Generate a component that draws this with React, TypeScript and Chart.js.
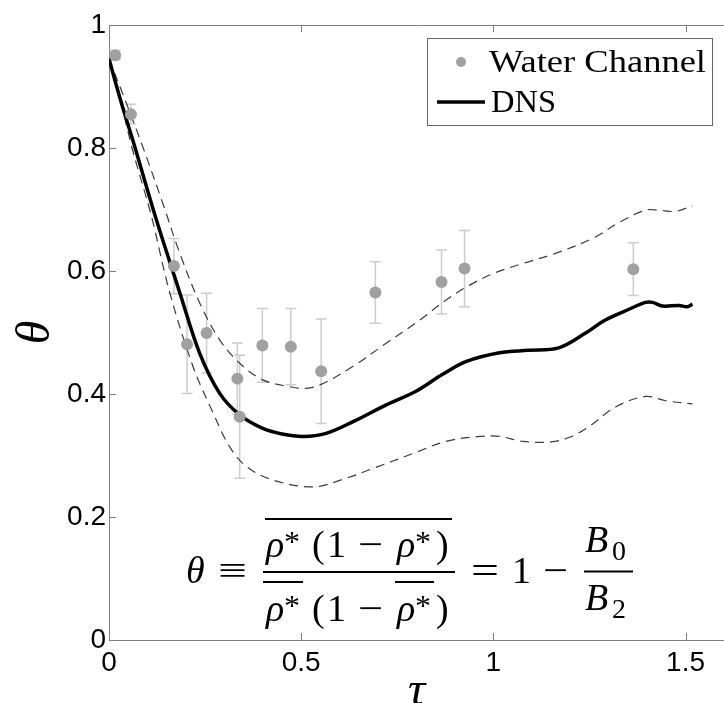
import React, { useEffect, useRef } from "react";
import { Chart, registerables } from "chart.js";
Chart.register(...registerables);

// ---- data ----
const xTickValues = [0, 0.5, 1, 1.5];
const yTickValues = [0, 0.2, 0.4, 0.6, 0.8, 1];

const wcTau = [0.016, 0.057, 0.169, 0.203, 0.254, 0.334, 0.34, 0.399, 0.473, 0.552, 0.693, 0.865, 0.925, 1.364];
const wcTheta = [0.951, 0.855, 0.608, 0.481, 0.499, 0.425, 0.363, 0.479, 0.477, 0.437, 0.565, 0.582, 0.604, 0.603];
const wcErr = [0.008, 0.016, 0.045, 0.08, 0.065, 0.058, 0.1, 0.06, 0.062, 0.085, 0.05, 0.052, 0.062, 0.043];

const dnsTau = [0, 0.03, 0.068, 0.12, 0.184, 0.236, 0.288, 0.34, 0.4, 0.45, 0.505, 0.565, 0.635, 0.72, 0.8, 0.868, 0.93, 1.016, 1.09, 1.17, 1.24, 1.29, 1.35, 1.396, 1.414, 1.44, 1.483, 1.504, 1.518];
const dnsTheta = [0.945, 0.878, 0.8, 0.69, 0.565, 0.466, 0.401, 0.366, 0.344, 0.335, 0.331, 0.336, 0.355, 0.382, 0.405, 0.432, 0.453, 0.467, 0.471, 0.475, 0.499, 0.52, 0.537, 0.549, 0.549, 0.543, 0.544, 0.542, 0.546];

const upperTau = [0, 0.042, 0.089, 0.14, 0.184, 0.236, 0.288, 0.34, 0.4, 0.47, 0.513, 0.557, 0.635, 0.72, 0.808, 0.877, 0.938, 1.0, 1.07, 1.163, 1.258, 1.33, 1.396, 1.43, 1.474, 1.518];
const upperTheta = [0.945, 0.878, 0.8, 0.71, 0.629, 0.548, 0.488, 0.45, 0.423, 0.412, 0.409, 0.417, 0.445, 0.482, 0.52, 0.553, 0.577, 0.596, 0.611, 0.629, 0.653, 0.68, 0.699, 0.699, 0.697, 0.706];

const lowerTau = [0, 0.03, 0.06, 0.11, 0.158, 0.219, 0.271, 0.314, 0.358, 0.427, 0.531, 0.617, 0.687, 0.79, 0.877, 0.964, 1.016, 1.076, 1.15, 1.2, 1.249, 1.318, 1.396, 1.448, 1.518];
const lowerTheta = [0.945, 0.878, 0.8, 0.69, 0.565, 0.444, 0.369, 0.314, 0.282, 0.26, 0.249, 0.263, 0.279, 0.303, 0.323, 0.331, 0.331, 0.323, 0.322, 0.33, 0.347, 0.379, 0.396, 0.389, 0.384];

const toXY = (xs: number[], ys: number[]) => xs.map((x, i) => ({ x, y: ys[i] }));

const AXIS_GRAY = "#808080";
const CANVAS_W = 730;
const CANVAS_H = 703;

const framePlugin = {
  id: "frame",
  beforeDatasetsDraw(chart: any) {
    const { ctx, scales } = chart;
    const xs = scales.x, ys = scales.y;
    ctx.save();
    ctx.strokeStyle = "#cdcdcd";
    ctx.lineWidth = 1.5;
    wcTau.forEach((t, i) => {
      const px = xs.getPixelForValue(t);
      const top = ys.getPixelForValue(wcTheta[i] + wcErr[i]);
      const bot = ys.getPixelForValue(wcTheta[i] - wcErr[i]);
      ctx.beginPath();
      ctx.moveTo(px, top); ctx.lineTo(px, bot);
      ctx.moveTo(px - 5.5, top); ctx.lineTo(px + 5.5, top);
      ctx.moveTo(px - 5.5, bot); ctx.lineTo(px + 5.5, bot);
      ctx.stroke();
    });
    ctx.restore();
  },
  afterDraw(chart: any) {
    const { ctx, chartArea, scales } = chart;
    const { left, right, top, bottom } = chartArea;
    ctx.save();
    ctx.strokeStyle = AXIS_GRAY;
    ctx.lineWidth = 1;
    ctx.beginPath();
    ctx.moveTo(left, top + 0.5); ctx.lineTo(right, top + 0.5);
    xTickValues.forEach((v) => {
      const px = Math.round(scales.x.getPixelForValue(v)) + 0.5;
      if (v > 0) {
        ctx.moveTo(px, bottom); ctx.lineTo(px, bottom - 7);
        ctx.moveTo(px, top); ctx.lineTo(px, top + 7);
      }
    });
    yTickValues.forEach((v) => {
      const py = Math.round(scales.y.getPixelForValue(v)) + 0.5;
      if (v > 0 && v < 1) {
        ctx.moveTo(left, py); ctx.lineTo(left + 7, py);
      }
    });
    ctx.stroke();
    ctx.restore();
  },
};

const serif = "'Liberation Serif', 'Times New Roman', serif";

function Formula() {
  const F = 38;
  const S = 30;
  const it = { fontStyle: "italic" as const };
  return (
    <g fontFamily={serif} fill="#000">
      <text x={186} y={583} fontSize={F} style={it}>θ</text>
      <text x={218} y={583} fontSize={F} textLength={29} lengthAdjust="spacingAndGlyphs">≡</text>
      {/* numerator */}
      <text x={266} y={557} fontSize={F} style={it}>ρ</text>
      <text x={284} y={551} fontSize={S} textLength={16} lengthAdjust="spacingAndGlyphs">*</text>
      <text x={312} y={557} fontSize={F}>(</text>
      <text x={327} y={557} fontSize={F}>1</text>
      <text x={358} y={557} fontSize={F} textLength={25} lengthAdjust="spacingAndGlyphs">−</text>
      <text x={397} y={557} fontSize={F} style={it}>ρ</text>
      <text x={415} y={551} fontSize={S} textLength={16} lengthAdjust="spacingAndGlyphs">*</text>
      <text x={436} y={557} fontSize={F}>)</text>
      <line x1={265} x2={452} y1={519} y2={519} stroke="#000" strokeWidth={1.8} />
      <line x1={263} x2={455} y1={572} y2={572} stroke="#000" strokeWidth={2} />
      {/* denominator */}
      <text x={266} y={621} fontSize={F} style={it}>ρ</text>
      <text x={284} y={615} fontSize={S} textLength={16} lengthAdjust="spacingAndGlyphs">*</text>
      <text x={312} y={621} fontSize={F}>(</text>
      <text x={327} y={621} fontSize={F}>1</text>
      <text x={358} y={621} fontSize={F} textLength={25} lengthAdjust="spacingAndGlyphs">−</text>
      <text x={397} y={621} fontSize={F} style={it}>ρ</text>
      <text x={415} y={615} fontSize={S} textLength={16} lengthAdjust="spacingAndGlyphs">*</text>
      <text x={436} y={621} fontSize={F}>)</text>
      <line x1={263} x2={303} y1={582} y2={582} stroke="#000" strokeWidth={1.8} />
      <line x1={395} x2={434} y1={582} y2={582} stroke="#000" strokeWidth={1.8} />
      {/* right side */}
      <text x={471} y={583} fontSize={F} textLength={28} lengthAdjust="spacingAndGlyphs">=</text>
      <text x={512} y={583} fontSize={F}>1</text>
      <text x={543} y={583} fontSize={F} textLength={25} lengthAdjust="spacingAndGlyphs">−</text>
      <text x={585} y={552} fontSize={F} style={it}>B</text>
      <text x={612} y={560} fontSize={28}>0</text>
      <line x1={584} x2={633} y1={571.5} y2={571.5} stroke="#000" strokeWidth={2} />
      <text x={585} y={610} fontSize={F} style={it}>B</text>
      <text x={612} y={618} fontSize={28}>2</text>
    </g>
  );
}

function Legend() {
  return (
    <g fontFamily={serif}>
      <rect x={427.5} y={38.5} width={285} height={87} fill="#fff" stroke="#666" strokeWidth={1} />
      <circle cx={461} cy={62} r={5} fill="#a0a0a0" />
      <text x={489} y={72} fontSize={32} textLength={217} lengthAdjust="spacingAndGlyphs">Water Channel</text>
      <line x1={437} x2={485} y1={102} y2={102} stroke="#000" strokeWidth={3.5} />
      <text x={491} y={112} fontSize={32} textLength={65} lengthAdjust="spacingAndGlyphs">DNS</text>
    </g>
  );
}

export default function App() {
  const canvasRef = useRef<HTMLCanvasElement | null>(null);

  useEffect(() => {
    if (!canvasRef.current) return;
    const dashed = {
      borderColor: "#3c3c3c",
      borderWidth: 1.2,
      borderDash: [9, 6],
      pointRadius: 0,
      showLine: true,
      tension: 0.35,
      fill: false,
    };
    const chart = new Chart(canvasRef.current, {
      type: "scatter",
      data: {
        datasets: [
          {
            label: "Water Channel",
            data: toXY(wcTau, wcTheta),
            pointRadius: 6,
            pointHoverRadius: 6,
            pointBackgroundColor: "#a0a0a0",
            pointBorderWidth: 0,
            borderWidth: 0,
            showLine: false,
          },
          {
            label: "DNS",
            data: toXY(dnsTau, dnsTheta),
            borderColor: "#000",
            borderWidth: 3.5,
            pointRadius: 0,
            showLine: true,
            tension: 0.35,
            fill: false,
          },
          { label: "DNS upper", data: toXY(upperTau, upperTheta), ...dashed },
          { label: "DNS lower", data: toXY(lowerTau, lowerTheta), ...dashed },
        ],
      },
      options: {
        animation: false,
        responsive: false,
        devicePixelRatio: 1,
        layout: { padding: { top: 25, left: 0, right: 0, bottom: 0 } },
        plugins: { legend: { display: false }, tooltip: { enabled: false } },
        scales: {
          x: {
            type: "linear",
            min: 0,
            max: 1.6,
            afterBuildTicks: (s: any) => { s.ticks = xTickValues.map((value) => ({ value })); },
            afterFit: (s: any) => { s.height = 63; },
            ticks: {
              callback: (v: any) => String(v),
              font: { family: "'Liberation Sans', Arial, sans-serif", size: 28 },
              color: "#000",
              padding: 6,
              maxRotation: 0,
            },
            grid: { display: true, drawOnChartArea: false, drawTicks: false },
            border: { display: true, color: AXIS_GRAY, width: 1 },
            title: {
              display: true,
              text: "τ",
              color: "#000",
              font: { family: serif, style: "italic", size: 48, lineHeight: 0.44 },
              padding: { top: 0, bottom: 0 },
            },
          },
          y: {
            type: "linear",
            min: 0,
            max: 1,
            afterBuildTicks: (s: any) => { s.ticks = yTickValues.map((value) => ({ value })); },
            afterFit: (s: any) => { s.width = 109; },
            ticks: {
              callback: (v: any) => String(v),
              font: { family: "'Liberation Sans', Arial, sans-serif", size: 28 },
              color: "#000",
              padding: 3,
            },
            grid: { display: true, drawOnChartArea: false, drawTicks: false },
            border: { display: true, color: AXIS_GRAY, width: 1 },
            title: {
              display: true,
              text: "θ",
              color: "#000",
              font: { family: serif, style: "italic", size: 48, lineHeight: 0.44 },
              padding: { top: 26, bottom: 0 },
            },
          },
        },
      },
      plugins: [framePlugin],
    } as any);
    return () => chart.destroy();
  }, []);

  return (
    <div style={{ position: "fixed", left: 0, top: 0, width: 724, height: 703, background: "#fff", overflow: "hidden" }}>
      <canvas ref={canvasRef} width={CANVAS_W} height={CANVAS_H} style={{ position: "absolute", left: 0, top: 0, width: CANVAS_W, height: CANVAS_H }} />
      <svg width={724} height={703} style={{ position: "absolute", left: 0, top: 0, pointerEvents: "none" }}>
        <Legend />
        <Formula />
      </svg>
    </div>
  );
}
